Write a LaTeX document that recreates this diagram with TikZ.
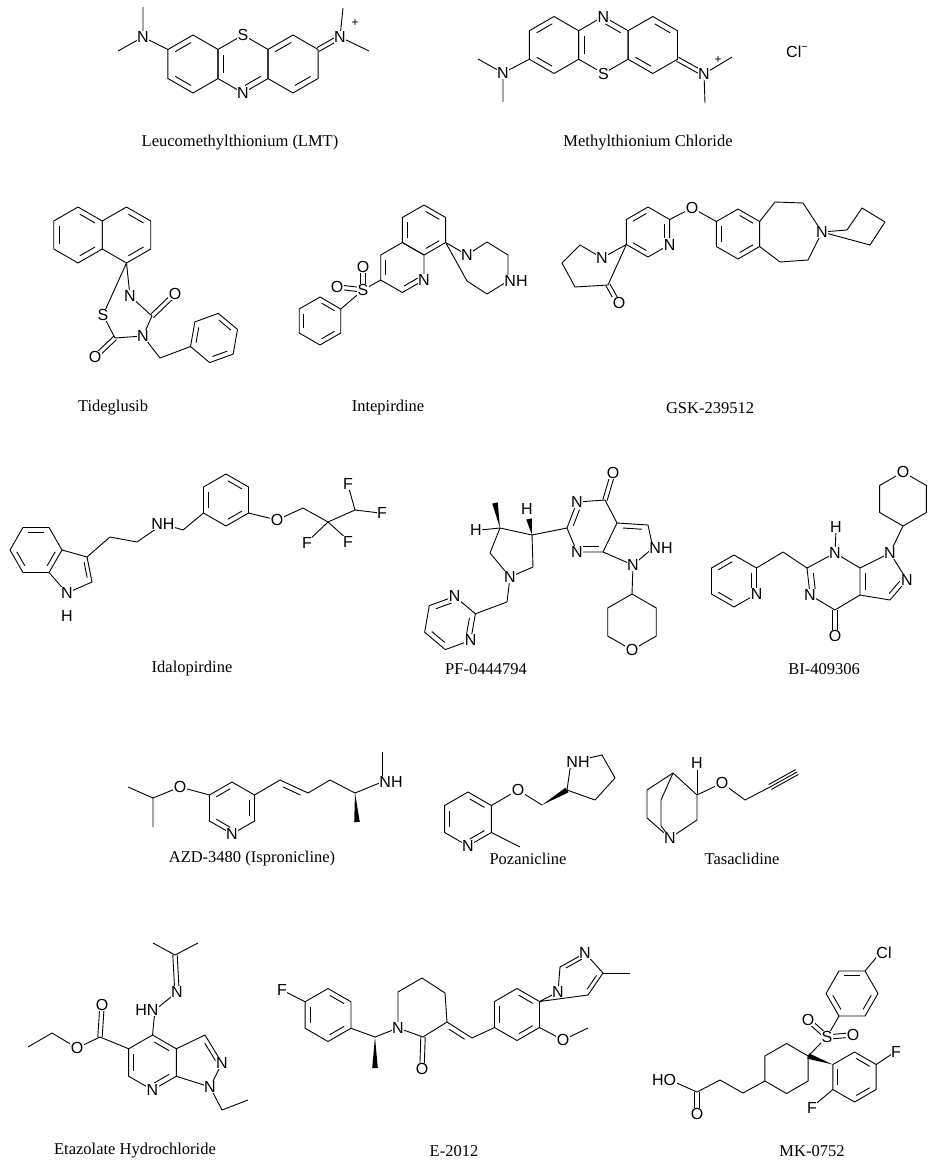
\documentclass[tikz,border=0pt]{standalone}
\usepackage{fontspec}
\setmainfont{Liberation Serif}
\newfontfamily\af{Liberation Sans}
\usetikzlibrary{calc}
\newcommand\hexr[5]{%
 \foreach \i in {0,...,5}{\coordinate (#1\i) at ($(#2,#3)+({#5+60*\i}:#4)$);}
 \coordinate (#1c) at (#2,#3);
 \draw (#10)--(#11)--(#12)--(#13)--(#14)--(#15)--cycle;}
\newcommand\db[3]{\path ($#3!0.78!#1$) coordinate (tA) ($#3!0.78!#2$) coordinate (tB);
 \draw ($(tA)!0.1!(tB)$) -- ($(tB)!0.1!(tA)$);}
\newcommand\rd[2]{\foreach \j in {#2}{\pgfmathtruncatemacro\k{mod(\j+1,6)}\db{(#1\j)}{(#1\k)}{(#1c)}}}
\newcommand\cd[2]{\draw ($#1!2.2pt!90:#2$) -- ($#2!2.2pt!-90:#1$); \draw ($#1!2.2pt!-90:#2$) -- ($#2!2.2pt!90:#1$);}
\newcommand\wdg[2]{\fill #1 -- ($#2!2.8pt!90:#1$) -- ($#2!2.8pt!-90:#1$) -- cycle;}
\newcommand\lb[2]{\node[lab] at #1 {#2};}
\begin{document}
\begin{tikzpicture}[x=1pt,y=-1pt,line width=0.9pt,line join=round,
 lab/.style={fill=white,inner sep=0.6pt,font=\af\fontsize{16}{16}\selectfont},
 nm/.style={font=\fontsize{16.5}{19}\selectfont}]
\useasboundingbox (0,0) rectangle (941,1169);
\fill[white] (0,0) rectangle (941,1169);
% ---------- LMT
\hexr{la}{193}{64}{29}{-90}\hexr{lb}{243}{64}{29}{-90}\hexr{lc}{293}{64}{29}{-90}
\rd{la}{3,5}\rd{lb}{2,4}\rd{lc}{2,5}
\cd{(lc1)}{(340,37)}
\draw (340,37)--(343,8) (340,37)--(369,51);
\draw (143,37)--(la5) (143,37)--(143,7) (143,37)--(118,51);
\lb{(lb0)}{S}\lb{(lb3)}{N}\lb{(143,37)}{N}\lb{(340,37)}{N}
\node[font=\af\fontsize{12}{12}\selectfont] at (355,23) {+};
% ---------- MB
\hexr{ma}{554}{45}{28.5}{-90}\hexr{mb}{603.4}{45}{28.5}{-90}\hexr{mc}{652.8}{45}{28.5}{-90}
\rd{ma}{3,5}\rd{mb}{0,4}\rd{mc}{0,3}
\cd{(mc2)}{(704,74)}
\draw (704,74)--(732,57) (704,74)--(705,103);
\draw (503,73)--(ma4) (503,73)--(478,59) (503,73)--(503,102);
\lb{(mb0)}{N}\lb{(mb3)}{S}\lb{(503,73)}{N}\lb{(704,74)}{N}
\node[font=\af\fontsize{12}{12}\selectfont] at (718,60) {+};
\node[font=\af\fontsize{16}{16}\selectfont] at (797,52) {Cl\raisebox{7pt}{\fontsize{11}{11}\selectfont −}};
% ---------- Tideglusib
\hexr{ta}{78}{235}{28}{-90}\hexr{tb}{126.5}{235}{28}{-90}
\rd{ta}{0,2,4}\rd{tb}{0,2}
\draw (tb3)--(130,296)--(152,316)--(143,336)--(115,338)--(103,315)--cycle;
\cd{(152,316)}{(175,294)}\cd{(115,338)}{(95,357)}
\hexr{tc}{214}{338}{25}{160}\rd{tc}{0,2,4}
\draw (143,336)--(160,358)--(tc0);
\lb{(130,296)}{N}\lb{(103,315)}{S}\lb{(143,336)}{N}\lb{(175,294)}{O}\lb{(95,357)}{O}
% ---------- Intepirdine
\hexr{ia}{424}{230}{25}{-90}\hexr{ib}{402.35}{267.5}{25}{-90}
\rd{ia}{0,2,4}\rd{ib}{2,4}
\draw (ia2)--(467,255)--(487,242)--(508,255)--(508,281)--(487,294)--(467,281)--cycle;
\draw (ib4)--(363,290);
\cd{(363,290)}{(363,268)}\cd{(363,290)}{(338,287)}
\hexr{ic}{320}{321}{24}{-30}\rd{ic}{1,3,5}
\draw (363,290)--(ic0);
\lb{(ib2)}{N}\lb{(467,255)}{N}\lb{(516,281)}{NH}\lb{(363,290)}{S}\lb{(363,267)}{O}\lb{(337,287)}{O}
% ---------- GSK-239512
\hexr{ga}{648}{232}{25}{-90}\rd{ga}{1,3,5}
\hexr{gb}{738}{234}{25}{-90}\rd{gb}{0,2,4}
\draw (ga1)--(692,208)--(gb5);
\draw (gb1)--(775,202)--(803,203)--(822,232)--(808,260)--(780,262)--(gb2);
\draw (822,232)--(847,230)--(862,208)--(885,222)--(870,245)--cycle;
\draw (ga4)--(602,258)--(580,245)--(562,263)--(575,287)--(608,285)--cycle;
\cd{(608,285)}{(618,303)}
\lb{(ga2)}{N}\lb{(692,208)}{O}\lb{(822,232)}{N}\lb{(602,258)}{N}\lb{(619,303)}{O}
% ---------- Idalopirdine
\hexr{da}{36}{550}{26}{0}\rd{da}{0,2,4}
\hexr{db}{226}{500}{26}{-90}\rd{db}{0,2,4}
\draw (da0)--(87,557)--(92,582)--(67,593)--(da1);
\db{(87,557)}{(92,582)}{(72,571)}
\draw (87,557)--(110,537)--(137,542)--(163,524)--(183,530)--(db4);
\draw (db2)--(277,520)--(303,508)--(328,522)--(355,510);
\draw (328,522)--(307,542) (328,522)--(348,540) (355,510)--(348,485) (355,510)--(380,513);
\lb{(67,593)}{N}\lb{(67,616)}{H}\lb{(163,524)}{NH}\lb{(277,520)}{O}
\lb{(307,543)}{F}\lb{(348,542)}{F}\lb{(348,484)}{F}\lb{(382,513)}{F}
% ---------- PF-0444794
\hexr{pa}{632}{622}{28}{-90}
\hexr{pb}{450}{623}{27}{-20}\rd{pb}{0,2,4}
\draw (605,500)--(577,502)--(567,528)--(577,552)--(603,552)--(617,523)--cycle;
\cd{(605,500)}{(613,473)}
\db{(577,502)}{(567,528)}{(592,527)}\db{(577,552)}{(603,552)}{(592,527)}
\draw (617,523)--(648,525)--(653,548)--(633,565)--(603,552);
\db{(617,523)}{(648,525)}{(632,545)}
\draw (633,565)--(pa0);
\draw (567,528)--(532,535)--(500,528)--(490,553)--(510,577)--(533,567)--(532,535);
\wdg{(532,535)}{(529,519)}\wdg{(500,528)}{(495,503)}
\draw (500,528)--(480,530);
\draw (510,577)--(507,602)--(pb0);
\lb{(613,473)}{O}\lb{(577,502)}{N}\lb{(577,552)}{N}\lb{(661,548)}{NH}\lb{(633,565)}{N}
\lb{(pa3)}{O}\lb{(527,509)}{H}\lb{(476,530)}{H}\lb{(510,577)}{N}\lb{(pb1)}{N}\lb{(pb5)}{N}
% ---------- BI-409306
\hexr{ba}{734}{581}{26}{-90}\rd{ba}{1,3,5}
\hexr{bb}{903}{499}{27}{90}
\draw (ba1)--(783,552)--(807,568);
\draw (807,568)--(835,553)--(860,568)--(860,595)--(835,610)--(810,595)--cycle;
\db{(807,568)}{(810,595)}{(835,582)}\db{(860,568)}{(860,595)}{(883,580)}
\cd{(835,610)}{(835,635)}
\draw (835,553)--(836,530);
\draw (860,568)--(890,553)--(907,580)--(890,600)--(860,595);
\db{(907,580)}{(890,600)}{(880,578)}
\draw (890,553)--(bb0);
\lb{(ba2)}{N}\lb{(835,553)}{N}\lb{(836,527)}{H}\lb{(810,595)}{N}\lb{(835,636)}{O}
\lb{(890,553)}{N}\lb{(907,580)}{N}\lb{(bb3)}{O}
% ---------- AZD-3480
\hexr{aa}{232}{808}{26}{-90}\rd{aa}{1,3,5}
\draw (128,787)--(153,798)--(153,827) (153,798)--(180,787)--(aa5);
\draw (aa1)--(280,780)--(308,793)--(330,780)--(355,793)--(382,782);
\db{(280,780)}{(308,793)}{(284,807)}
\draw (382,782)--(382,752);
\wdg{(355,793)}{(357,822)}
\lb{(180,787)}{O}\lb{(aa3)}{N}\lb{(391,782)}{NH}
% ---------- Pozanicline
\hexr{za}{468}{819}{27}{-90}\rd{za}{0,2,4}
\draw (za2)--(520,847) (za1)--(518,790)--(542,805);
\wdg{(542,805)}{(567,790)}
\draw (571,762)--(602,755)--(615,778)--(595,800)--(567,790)--cycle;
\lb{(518,790)}{O}\lb{(za3)}{N}\lb{(578,762)}{NH}
% ---------- Tasaclidine
\draw (673,773)--(697,795)--(697,820)--(670,838);
\draw (673,773)--(647,790)--(647,818)--(670,838);
\draw (673,773)--(661,800)--(661,826)--(670,838);
\draw (697,795)--(697,770);
\draw (697,795)--(722,783)--(745,800)--(770,787)--(797,772);
\draw ($(770,787)!2.8pt!90:(797,772)$)--($(797,772)!2.8pt!-90:(770,787)$);
\draw ($(770,787)!2.8pt!-90:(797,772)$)--($(797,772)!2.8pt!90:(770,787)$);
\lb{(670,838)}{N}\lb{(697,763)}{H}\lb{(722,783)}{O}
% ---------- Etazolate
\hexr{ea}{152.5}{1062.5}{27.5}{-90}\rd{ea}{0,2,4}
\draw (ea1)--(205,1035)--(222,1063)--(210,1087)--(ea2);
\db{(205,1035)}{(222,1063)}{(198,1062)}
\draw (210,1087)--(222,1110)--(248,1100);
\draw (ea5)--(100,1037)--(77,1048)--(52,1033)--(28,1047);
\cd{(100,1037)}{(102,1006)}
\draw (ea0)--(155,1010)--(177,992);
\cd{(177,992)}{(175,955)}
\draw (175,955)--(153,943) (175,955)--(198,943);
\lb{(147,1010)}{HN}\lb{(177,992)}{N}\lb{(77,1048)}{O}\lb{(102,1005)}{O}
\lb{(ea3)}{N}\lb{(222,1063)}{N}\lb{(210,1087)}{N}
% ---------- E-2012
\hexr{fa}{328}{1015}{26.5}{-90}\rd{fa}{0,2,4}
\hexr{fb}{517}{1014.5}{26}{-90}\rd{fb}{0,2,4}
\draw (fa5)--(282,990) (fa2)--(375,1037)--(398,1028);
\wdg{(375,1037)}{(375,1068)}
\draw (398,1028)--(398,992)--(422,978)--(445,993)--(447,1022)--(423,1037)--cycle;
\cd{(423,1037)}{(422,1068)}
\draw (447,1022)--(472,1038)--(fb4);
\db{(447,1022)}{(472,1038)}{(447,1049)}
\draw (fb2)--(563,1040)--(588,1028);
\draw (fb1)--(558,992)--(560,967)--(585,953)--(603,973)--(588,995)--cycle;
\draw (603,973)--(630,973);
\db{(560,967)}{(585,953)}{(579,976)}\db{(603,973)}{(588,995)}{(579,976)}
\lb{(282,990)}{F}\lb{(398,1028)}{N}\lb{(422,1069)}{O}\lb{(563,1040)}{O}\lb{(558,992)}{N}\lb{(585,953)}{N}
% ---------- MK-0752
\hexr{ka}{852}{993.5}{26}{-60}\rd{ka}{1,3,5}
\hexr{kb}{786.5}{1068.5}{25}{-30}
\hexr{kc}{854.5}{1077}{25}{210}\rd{kc}{1,3,5}
\draw (ka0)--(880,953) (ka3)--(827,1037);
\cd{(827,1037)}{(808,1020)}\cd{(827,1037)}{(852,1035)}
\draw (827,1037)--(kb0);
\wdg{(kc0)}{(kb0)}
\draw (kc2)--(895,1052) (kc5)--(812,1107);
\draw (kb3)--(743,1093)--(720,1080)--(697,1092)--(670,1080);
\cd{(697,1092)}{(697,1113)}
\lb{(884,953)}{Cl}\lb{(827,1037)}{S}\lb{(808,1020)}{O}\lb{(853,1035)}{O}
\lb{(896,1052)}{F}\lb{(812,1108)}{F}\lb{(664,1080)}{HO}\lb{(697,1114)}{O}
% ---------- names
\node[nm] at (240,143) {Leucomethylthionium (LMT)};
\node[nm] at (648,143) {Methylthionium Chloride};
\node[nm] at (113,408) {Tideglusib};
\node[nm] at (388,408) {Intepirdine};
\node[nm] at (710,408) {GSK-239512};
\node[nm] at (192,669) {Idalopirdine};
\node[nm] at (486,669) {PF-0444794};
\node[nm] at (824,669) {BI-409306};
\node[nm] at (252,859) {AZD-3480 (Ispronicline)};
\node[nm] at (528,859) {Pozanicline};
\node[nm] at (742,859) {Tasaclidine};
\node[nm] at (135,1151) {Etazolate Hydrochloride};
\node[nm] at (454,1151) {E-2012};
\node[nm] at (812,1151) {MK-0752};
\end{tikzpicture}
\end{document}
